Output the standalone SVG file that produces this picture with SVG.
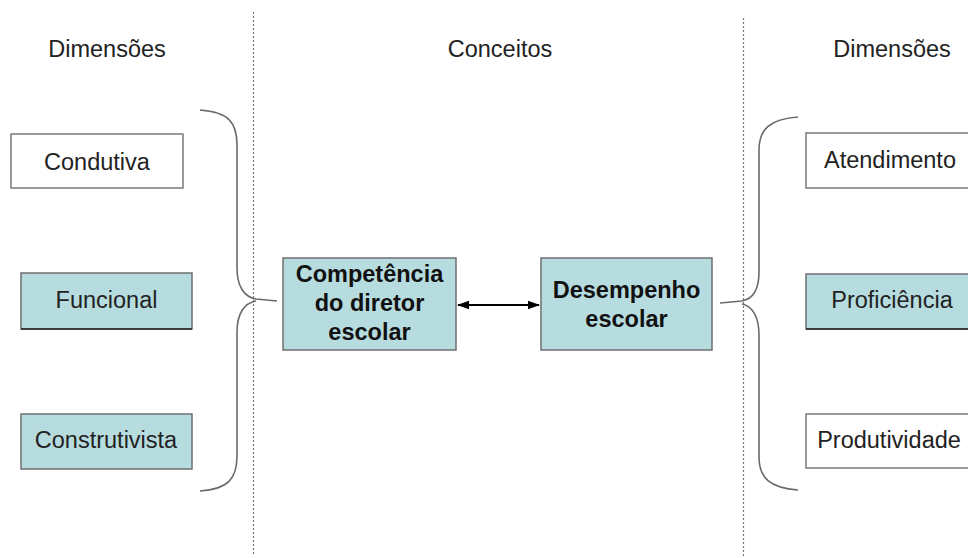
<svg xmlns="http://www.w3.org/2000/svg" width="968" height="558" viewBox="0 0 968 558">
<style>
text{font-family:"Liberation Sans",Arial,sans-serif;font-size:23.5px;fill:#222;text-anchor:middle}
.b{font-weight:bold;fill:#111}
.w{fill:#fff;stroke:#7a7a7a;stroke-width:1.5}
.c{fill:#b7dcdf;stroke:#6f6f6f;stroke-width:1.5}
.br{fill:none;stroke:#6a6a6a;stroke-width:1.6}
.dl{stroke:#777;stroke-width:1.2;stroke-dasharray:2 2}
</style>
<defs>
<marker id="ah" viewBox="0 0 10 10" refX="9" refY="5" markerWidth="7" markerHeight="7" orient="auto-start-reverse">
<path d="M0,1.5 L10,5 L0,8.5 Z" fill="#000"/>
</marker>
</defs>
<rect width="968" height="558" fill="#fff"/>
<g id="dividers">
<line class="dl" x1="253.5" y1="12" x2="253.5" y2="556"/>
<line class="dl" x1="743.5" y1="18" x2="743.5" y2="556"/>
</g>
<g id="headers">
<text x="107" y="57">Dimensões</text>
<text x="500" y="57">Conceitos</text>
<text x="892" y="57">Dimensões</text>
</g>
<g id="braces">
<path class="br" d="M200,110 C228,112 237,122 237,145 L237,268 C237,286 244,297 256,299 L277,301"/>
<path class="br" d="M200,491 C228,489 237,479 237,456 L237,332 C237,314 244,303 256,301"/>
<path class="br" d="M798,117 C770,119 759,129 759,150 L759,272 C759,290 752,299 742,301 L720,303"/>
<path class="br" d="M798,490 C770,488 759,478 759,457 L759,335 C759,316 752,306 742,304"/>
</g>
<g id="condutiva"><rect class="w" x="11" y="134" width="172" height="54"/><text x="97" y="170">Condutiva</text></g>
<g id="funcional"><rect class="c" x="21" y="273" width="171" height="56"/><line x1="21" y1="329" x2="192" y2="329" stroke="#222" stroke-width="1.5"/><text x="106.5" y="308">Funcional</text></g>
<g id="construtivista"><rect class="c" x="21" y="414" width="171" height="55"/><text x="106" y="448">Construtivista</text></g>
<g id="competencia"><rect class="c" x="283" y="258" width="173" height="92"/>
<text class="b" x="369.5" y="282">Competência</text>
<text class="b" x="369.5" y="311">do diretor</text>
<text class="b" x="369.5" y="340">escolar</text></g>
<g id="desempenho"><rect class="c" x="541" y="258" width="171" height="92"/>
<text class="b" x="626.5" y="298">Desempenho</text>
<text class="b" x="626.5" y="327">escolar</text></g>
<g id="atendimento"><rect class="w" x="806" y="133" width="175" height="55"/><text x="890" y="168">Atendimento</text></g>
<g id="proficiencia"><rect class="c" x="806" y="274" width="175" height="55"/><line x1="806" y1="329" x2="968" y2="329" stroke="#222" stroke-width="1.5"/><text x="892" y="308">Proficiência</text></g>
<g id="produtividade"><rect class="w" x="806" y="414" width="175" height="54"/><text x="889" y="448">Produtividade</text></g>
<g id="connectors">
<line x1="458" y1="305" x2="539" y2="305" stroke="#000" stroke-width="1.8" marker-start="url(#ah)" marker-end="url(#ah)"/>
</g>
</svg>
